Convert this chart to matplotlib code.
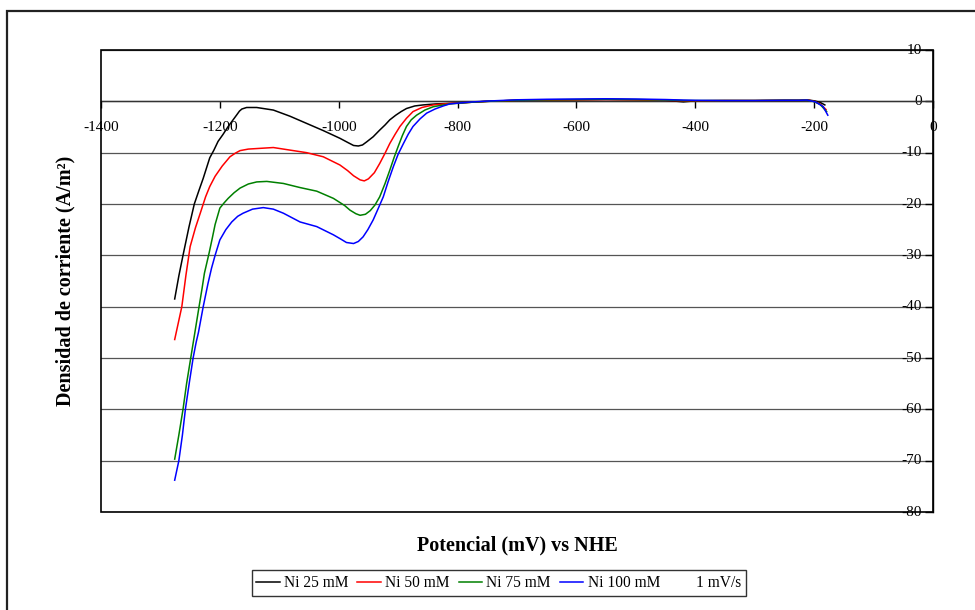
import matplotlib
matplotlib.use("Agg")
import matplotlib.pyplot as plt
from matplotlib.patches import Rectangle
from matplotlib.lines import Line2D

plt.rcParams['font.family'] = ['Liberation Serif', 'DejaVu Serif']
plt.rcParams['axes.unicode_minus'] = False

# ---- data (potential mV vs NHE, current density A/m2) ----
x25 = [-1276, -1269, -1262, -1252, -1243, -1235, -1228, -1217, -1210, -1203, -1195, -1186, -1179,
       -1172, -1167, -1163, -1155, -1138, -1110, -1082, -1054, -1026, -998, -985, -975, -967,
       -960, -953, -942, -931, -922, -914, -904, -895, -886, -872, -858, -836, -813,
       -780, -750, -700, -650, -600, -550, -500, -450, -420, -400, -350, -300, -250, -225, -212,
       -200, -190, -182]
y25 = [-38.5, -34.0, -30.0, -24.5, -20.0, -17.3, -15.0, -11.0, -9.5, -7.8, -6.5, -4.9, -3.8,
       -2.7, -1.9, -1.5, -1.2, -1.2, -1.7, -2.9, -4.3, -5.7, -7.2, -8.0, -8.6, -8.7,
       -8.5, -7.9, -6.9, -5.6, -4.6, -3.6, -2.7, -2.0, -1.4, -0.9, -0.7, -0.5, -0.4,
       -0.2, 0.0, 0.2, 0.25, 0.3, 0.35, 0.3, 0.2, -0.1, 0.1, 0.15, 0.15, 0.2, 0.2, 0.3,
       0.1, -0.2, -0.7]

x50 = [-1276, -1270, -1264, -1257, -1250, -1241, -1233, -1224, -1217, -1208, -1196, -1183,
       -1174, -1166, -1152, -1138, -1110, -1082, -1054, -1026, -998, -985, -975, -964, -957,
       -950, -940, -931, -922, -914, -905, -897, -886, -875, -860, -841, -813,
       -780, -750, -700, -650, -600, -550, -500, -450, -420, -400, -350, -300, -250, -225, -212,
       -200, -190, -180]
y50 = [-46.4, -43.2, -40.0, -33.8, -28.3, -24.6, -21.8, -18.6, -16.6, -14.6, -12.6, -10.8,
       -10.1, -9.6, -9.3, -9.2, -9.0, -9.5, -10.0, -10.8, -12.4, -13.5, -14.5, -15.3, -15.5,
       -15.1, -13.9, -12.1, -10.1, -8.2, -6.4, -4.9, -3.3, -2.0, -1.2, -0.7, -0.4,
       -0.2, 0.0, 0.2, 0.25, 0.3, 0.35, 0.3, 0.2, 0.1, 0.1, 0.15, 0.15, 0.2, 0.2, 0.3,
       0.0, -0.5, -1.6]

x75 = [-1276, -1269, -1262, -1256, -1249, -1242, -1235, -1230, -1226, -1218, -1213, -1208,
       -1200, -1193, -1186, -1176, -1166, -1152, -1138, -1121, -1093, -1065, -1037, -1009, -990,
       -981, -971, -964, -955, -947, -939, -931, -922, -914, -907, -900, -893, -886, -878,
       -869, -855, -841, -813,
       -780, -750, -700, -650, -600, -550, -500, -450, -420, -400, -350, -300, -250, -225, -212,
       -200, -190, -179]
y75 = [-69.7, -65.0, -60.0, -55.0, -50.0, -45.0, -40.0, -36.5, -33.5, -29.5, -26.8, -24.0,
       -20.8, -19.8, -18.9, -17.8, -16.9, -16.1, -15.7, -15.6, -16.0, -16.8, -17.5, -18.9, -20.3,
       -21.2, -21.9, -22.2, -22.0, -21.3, -20.2, -18.6, -16.0, -13.4, -11.0, -8.8, -6.7, -4.9, -3.6,
       -2.7, -1.7, -1.05, -0.5,
       -0.2, 0.0, 0.2, 0.3, 0.35, 0.4, 0.35, 0.25, 0.15, 0.15, 0.15, 0.15, 0.2, 0.2, 0.25,
       -0.05, -0.6, -2.0]

x100 = [-1276, -1269, -1263, -1258, -1251, -1245, -1240, -1236, -1228, -1220, -1214, -1208,
        -1200, -1190, -1180, -1170, -1161, -1145, -1127, -1110, -1093, -1065, -1037, -1009, -997,
        -987, -975, -967, -959, -951, -942, -934, -925, -917, -908, -900, -891, -883, -875, -863,
        -852, -838, -824, -813,
        -780, -750, -700, -650, -600, -550, -500, -450, -420, -400, -350, -300, -250, -225, -212,
        -198, -185, -177]
y100 = [-73.8, -70.0, -65.0, -60.0, -54.5, -50.0, -47.0, -45.0, -40.0, -35.5, -32.5, -30.0,
        -27.0, -25.0, -23.5, -22.4, -21.8, -21.0, -20.7, -21.0, -21.8, -23.5, -24.4, -26.0, -26.8,
        -27.5, -27.7, -27.3, -26.4, -25.0, -23.1, -21.0, -18.6, -15.7, -12.7, -10.3, -8.2, -6.4, -4.9,
        -3.4, -2.3, -1.5, -0.9, -0.5,
        -0.15, 0.05, 0.3, 0.4, 0.45, 0.5, 0.45, 0.35, 0.25, 0.2, 0.15, 0.15, 0.2, 0.2, 0.25,
        -0.1, -1.0, -2.7]

series = [("Ni 25 mM", x25, y25, "#000000"),
          ("Ni 50 mM", x50, y50, "#ff0000"),
          ("Ni 75 mM", x75, y75, "#008000"),
          ("Ni 100 mM", x100, y100, "#0000ff")]
extra_label = "1 mV/s"

xticks = [-1400, -1200, -1000, -800, -600, -400, -200, 0]
yticks = [10, 0, -10, -20, -30, -40, -50, -60, -70, -80]

xlabel = "Potencial (mV) vs NHE"
ylabel = "Densidad de corriente (A/m²)"

# ---- figure ----
W, H = 975, 610
fig = plt.figure(figsize=(W / 100, H / 100), dpi=100)
fig.patch.set_facecolor("white")

# outer chart border (extends past the image at right/bottom)
fig.patches.append(Rectangle((7 / W, -0.1), 1.2, 1 - 11 / H + 0.1, transform=fig.transFigure,
                             fill=False, edgecolor="#222222", linewidth=1.6))

l, r, t, b = 101, 933, 50, 512
ax = fig.add_axes([l / W, 1 - b / H, (r - l) / W, (b - t) / H])
ax.set_xlim(-1400, 0)
ax.set_ylim(-80, 10)

for lab, xs, ys, c in series:
    ax.plot(xs, ys, color=c, lw=1.1, label=lab, zorder=3)

# gridlines
ax.set_yticks(yticks)
ax.set_xticks(xticks)
ax.yaxis.grid(True, color="#555555", lw=0.9)
ax.xaxis.grid(False)
ax.set_axisbelow(True)

# axis positions: x axis crossing at y=0, y axis at x=0 (right side)
ax.spines['bottom'].set_position(('data', 0))
ax.spines['left'].set_position(('data', 0))
ax.spines['bottom'].set_color("#333333")
ax.spines['left'].set_color("#000000")
ax.spines['top'].set_visible(False)
ax.spines['right'].set_visible(False)
for s in ['bottom', 'left']:
    ax.spines[s].set_linewidth(1.0)
    ax.spines[s].set_zorder(2)

# plot area border
ax.add_patch(Rectangle((0, 0), 1, 1, transform=ax.transAxes, fill=False,
                       edgecolor="black", linewidth=1.2, zorder=4, clip_on=False))

ax.tick_params(axis='x', direction='out', length=5, width=1, pad=9, labelsize=11, colors="black")
ax.tick_params(axis='y', direction='out', length=6, width=1, pad=2, labelsize=11, colors="black")
for tl in ax.get_yticklabels():
    tl.set_verticalalignment('center')

ax.set_xlabel(xlabel, fontsize=14.5, fontweight='bold')
ax.xaxis.set_label_coords(0.5, (b - 545) / (b - t))
ax.xaxis.label.set_verticalalignment('center')
ax.set_ylabel(ylabel, fontsize=14.5, fontweight='bold')
ax.yaxis.set_label_coords((65 - l) / (r - l), 0.5)
ax.yaxis.label.set_verticalalignment('center')

handles = [Line2D([], [], color=c, lw=1.1) for _, _, _, c in series]
labels = [s[0] for s in series]
handles.append(Line2D([], [], color="none", lw=0))
labels.append(extra_label)
leg = fig.legend(handles, labels, loc='center', bbox_to_anchor=(499 / W, 1 - 583 / H),
                 ncol=5, frameon=True, fancybox=False, fontsize=11.2, handlelength=1.5,
                 handletextpad=0.3, columnspacing=0.55, borderpad=0.3, borderaxespad=0)
leg.get_frame().set_edgecolor("black")
leg.get_frame().set_linewidth(1.0)

fig.savefig("out.png", dpi=100, facecolor="white")
